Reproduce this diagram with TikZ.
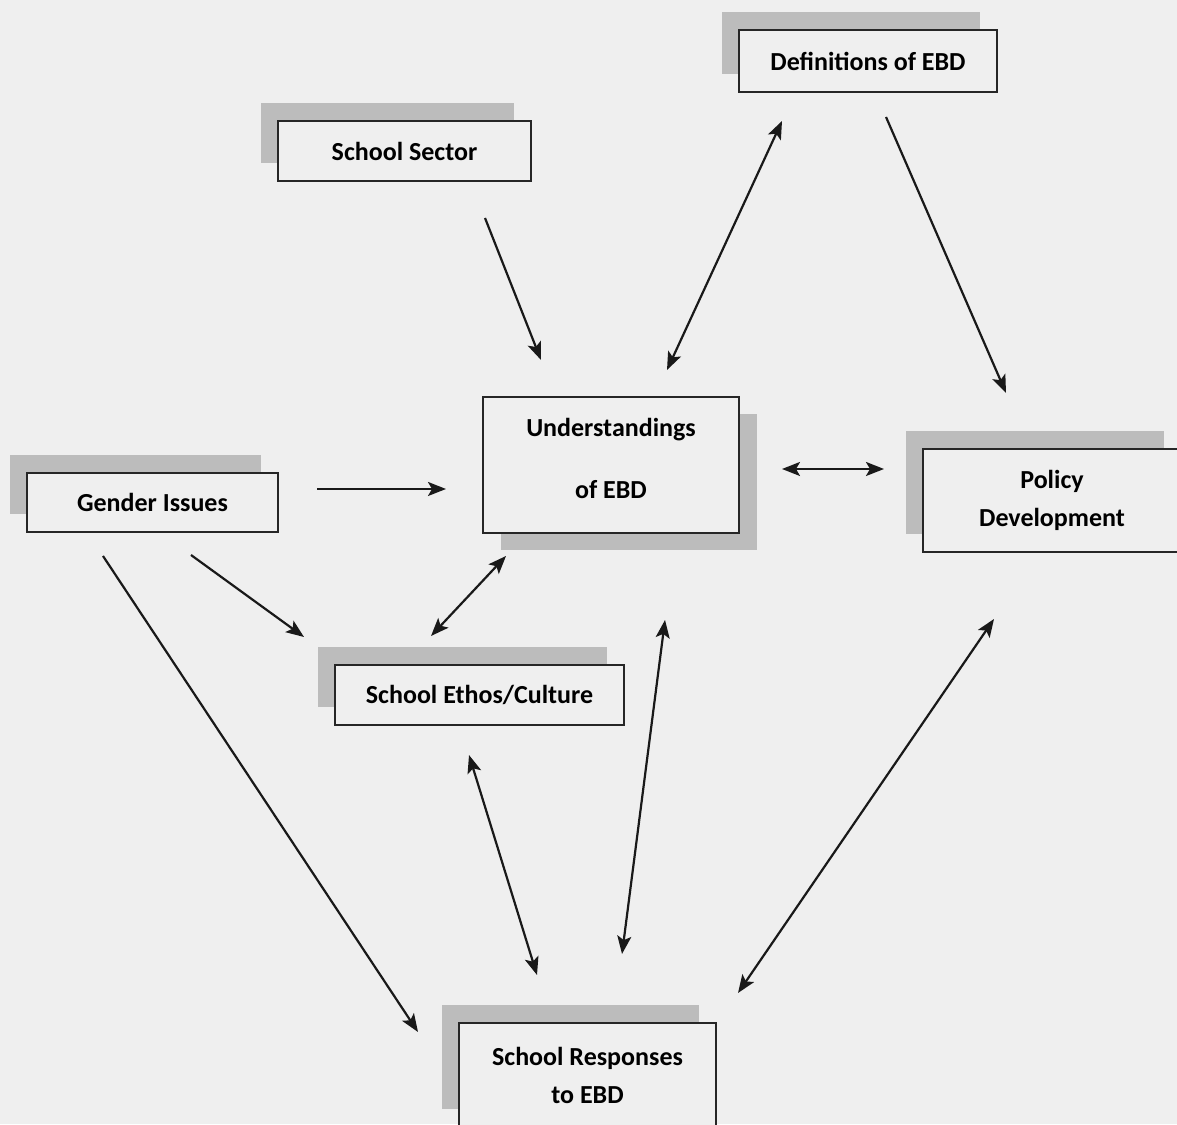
\documentclass[tikz,border=0pt]{standalone}
\usepackage{fontspec}
\setmainfont{Carlito}
\usetikzlibrary{shapes,arrows,arrows.meta,positioning,shadows}
\definecolor{paper}{RGB}{239,239,239}
\definecolor{shade}{RGB}{188,188,188}

\begin{document}
\begin{tikzpicture}[
    x=1pt, y=1pt,
    font=\fontsize{26}{38}\selectfont\bfseries,
    box/.style={rectangle, draw=black!85, line width=1.6pt, fill=paper, align=center, inner sep=0pt, outer sep=0pt,
        drop shadow={shadow xshift=-17pt, shadow yshift=18pt, fill=shade, opacity=1}},
    backbox/.style={rectangle, draw=black!85, line width=1.6pt, fill=paper, align=center, inner sep=0pt, outer sep=0pt,
        drop shadow={shadow xshift=18pt, shadow yshift=-17pt, fill=shade, opacity=1}},
    arrow/.style={-{Stealth[length=18pt,width=14pt,inset=4pt]}, line width=2.2pt, draw=black!90},
    dblarrow/.style={{Stealth[length=18pt,width=14pt,inset=4pt]}-{Stealth[length=18pt,width=14pt,inset=4pt]}, line width=2.2pt, draw=black!90}
]
\useasboundingbox (0,0) rectangle (1177,1124);
\fill[paper] (0,0) rectangle (1177,1124);

% Centre
\node[backbox, minimum width=256pt, minimum height=136pt, text depth=14pt] (under) at (611,659) {Understandings\\[24pt]of EBD};

% Top
\node[box, minimum width=253pt, minimum height=60pt, above=216pt of under, xshift=-206.5pt] (sector) {School Sector};
\node[box, minimum width=258pt, minimum height=62pt, above=305pt of under, xshift=257pt] (defs) {Definitions of EBD};

% Sides
\node[box, minimum width=258pt, minimum height=103pt, right=184pt of under, yshift=-35.5pt] (policy) {Policy\\Development};
\node[box, minimum width=251pt, minimum height=59pt, left=205pt of under, yshift=-37.5pt] (gender) {Gender Issues};

% Bottom
\node[box, minimum width=289pt, minimum height=60pt, below=132pt of under, xshift=-131.5pt] (ethos) {School Ethos/Culture};
\node[box, minimum width=257pt, minimum height=104pt, below=490pt of under, xshift=-23.5pt] (responses) {School Responses\\to EBD};

% Arrows
\draw[arrow] ([shift={(80.5,-37)}]sector.south) -- ([shift={(-70,37)}]under.north);
\draw[dblarrow] ([shift={(-86,-29)}]defs.south) -- ([shift={(56,27)}]under.north);
\draw[arrow] ([shift={(18,-25)}]defs.south) -- ([shift={(-46,56)}]policy.north);
\draw[arrow] ([shift={(39,13.5)}]gender.east) -- ([shift={(-37,-24)}]under.west);
\draw[dblarrow] ([shift={(43,-4)}]under.east) -- ([shift={(-39,31.5)}]policy.west);
\draw[dblarrow] ([shift={(-105,-23)}]under.south) -- ([shift={(-48.5,29)}]ethos.north);
\draw[arrow] ([shift={(38.5,-23)}]gender.south) -- ([shift={(-31,28)}]ethos.north west);
\draw[arrow] ([shift={(-49.5,-24)}]gender.south) -- ([shift={(-41,-9)}]responses.north west);
\draw[dblarrow] ([shift={(-10.5,-30)}]ethos.south) -- ([shift={(-50.5,48)}]responses.north);
\draw[dblarrow] ([shift={(54,-87)}]under.south) -- ([shift={(34.5,69)}]responses.north);
\draw[dblarrow] ([shift={(-58,-67)}]policy.south) -- ([shift={(22,30)}]responses.north east);

\end{tikzpicture}
\end{document}
